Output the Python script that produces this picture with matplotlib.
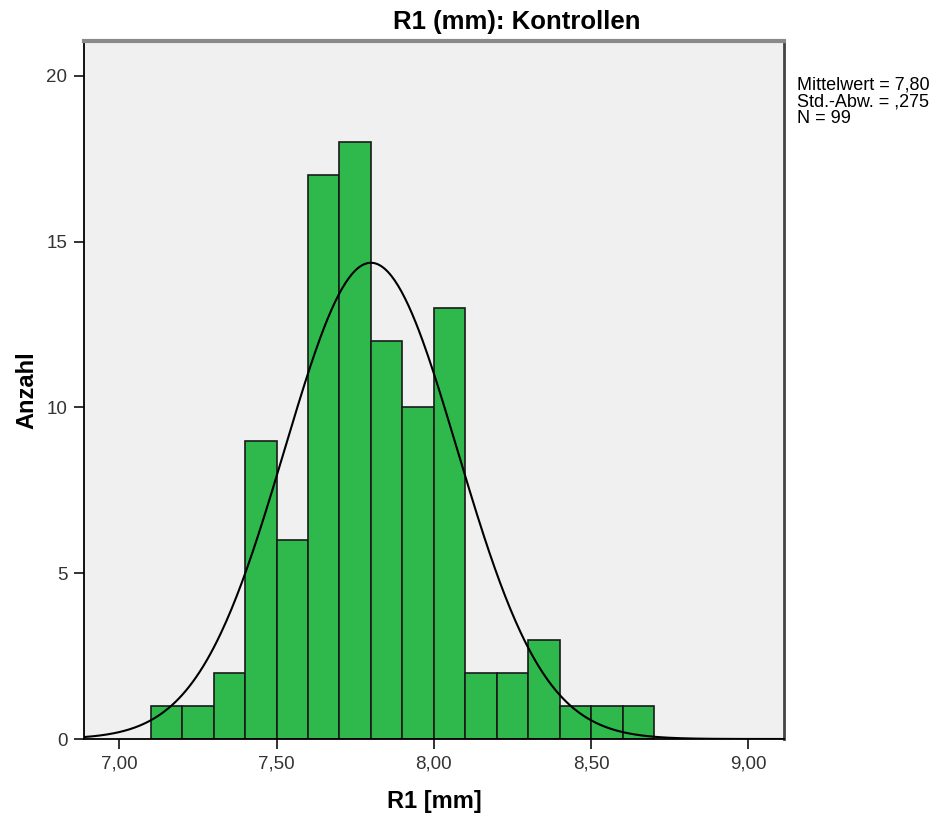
import numpy as np
import matplotlib.pyplot as plt

# histogram of R1 (mm), bins of 0.1 mm
bin_edges = [7.1, 7.2, 7.3, 7.4, 7.5, 7.6, 7.7, 7.8, 7.9, 8.0, 8.1, 8.2, 8.3, 8.4, 8.5, 8.6, 8.7]
counts = [1, 1, 2, 9, 6, 17, 18, 12, 10, 13, 2, 2, 3, 1, 1, 1]

mean_val = 7.80
std_val = 0.275
n_val = 99

xticks = [7.0, 7.5, 8.0, 8.5, 9.0]
xtick_labels = ["7,00", "7,50", "8,00", "8,50", "9,00"]
yticks = [0, 5, 10, 15, 20]

plt.rcParams['font.family'] = ['Liberation Sans', 'DejaVu Sans']

fig = plt.figure(figsize=(9.43, 8.21), dpi=100)
ax = fig.add_axes([84/943, 82/821, 700/943, 698/821])
ax.set_facecolor('#f0f0f0')

edges = np.array(bin_edges)
widths = np.diff(edges)
ax.bar(edges[:-1], counts, width=widths, align='edge', color='#2fb84b',
       edgecolor='#1a1a1a', linewidth=1.2, zorder=2)

# normal curve scaled to counts
xlim = (6.888, 9.113)
xs = np.linspace(xlim[0], xlim[1], 400)
binw = 0.1
ys = n_val * binw / (std_val * np.sqrt(2*np.pi)) * np.exp(-0.5*((xs-mean_val)/std_val)**2)
ax.plot(xs, ys, color='black', lw=1.5, zorder=3)

ax.set_xlim(xlim)
ax.set_ylim(0, 21.05)
ax.set_xticks(xticks)
ax.set_xticklabels(xtick_labels)
ax.set_yticks(yticks)
ax.tick_params(axis='both', direction='out', length=7, width=1.3, color='#222222',
               labelsize=13.5, labelcolor='#333333', pad=5)

ax.spines['left'].set_color('black')
ax.spines['left'].set_linewidth(1.3)
ax.spines['bottom'].set_color('black')
ax.spines['bottom'].set_linewidth(1.3)
ax.spines['top'].set_color('#8a8a8a')
ax.spines['top'].set_linewidth(3)
ax.spines['right'].set_color('#444444')
ax.spines['right'].set_linewidth(2)

fig.text(434/943, 1 - 801/821, "R1 [mm]", fontsize=17, fontweight='bold',
         ha='center', va='center')
fig.text(27/943, 1 - 390/821, "Anzahl", fontsize=17, fontweight='bold',
         ha='center', va='center', rotation=90)

fig.text(517/943, 1 - 22/821, "R1 (mm): Kontrollen", fontsize=18.5, fontweight='bold',
         ha='center', va='center')

fig.text(797/943, 1 - 77/821,
         "Mittelwert = 7,80\nStd.-Abw. = ,275\nN = 99",
         fontsize=13, ha='left', va='top', linespacing=0.95)

fig.savefig("out.png", dpi=100)
